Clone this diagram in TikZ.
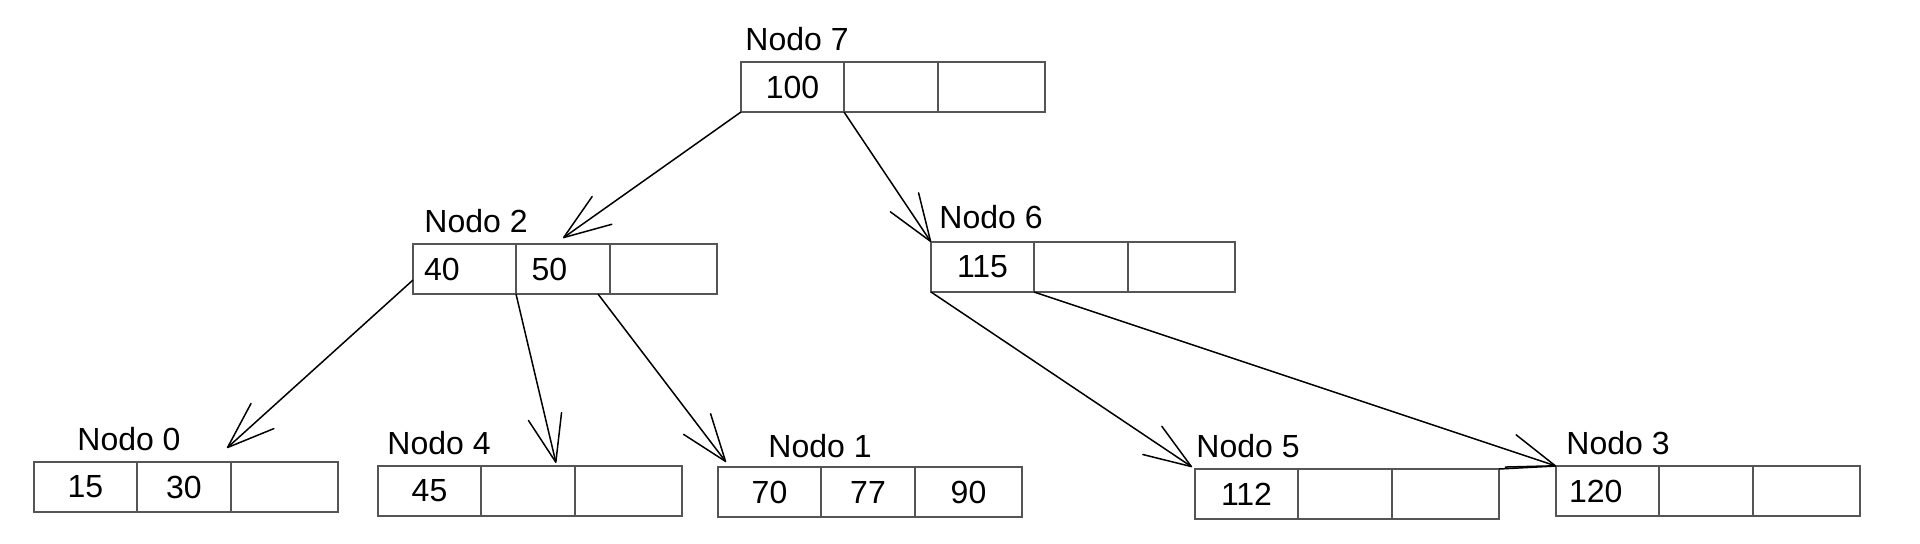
\documentclass[tikz,border=0pt]{standalone}
\usepackage{fontspec}
\setmainfont{Liberation Sans}
\usetikzlibrary{arrows.meta, positioning}
\definecolor{boxgray}{RGB}{85,85,85}

\begin{document}
\begin{tikzpicture}[x=0.5pt, y=-0.5pt,
  cell/.style={draw=boxgray, line width=1pt, minimum height=25pt, inner sep=0pt, outer sep=0pt, font=\fontsize{16}{19}\selectfont},
  ca/.style={cell, minimum width=51.5pt},
  cb/.style={cell, minimum width=47pt},
  cc/.style={cell, minimum width=53.5pt},
  lk/.style={text width=#1, align=left},
  tag/.style={font=\fontsize{16}{19}\selectfont, inner sep=0pt, anchor=base west},
  ptr/.style={-{Straight Barb[length=23.5pt, width=17pt, round]}, line width=0.75pt}]

\useasboundingbox (0,0) rectangle (1920,543);

% Nodo 7 (root)
\node[ca, anchor=north west] (n7a) at (741,62) {100};
\node[cb, right=0pt of n7a] (n7b) {};
\node[cc, right=0pt of n7b] (n7c) {};
\node[tag] (t7) at ([shift={(2pt,6pt)}]n7a.north west) {Nodo 7};

% Nodo 2
\node[ca, lk=40.5pt, anchor=north west] (n2a) at (413,244) {40};
\node[cb, lk=31.4pt, right=0pt of n2a] (n2b) {50};
\node[cc, right=0pt of n2b] (n2c) {};
\node[tag] (t2) at ([shift={(5.5pt,6pt)}]n2a.north west) {Nodo 2};

% Nodo 6
\node[ca, anchor=north west] (n6a) at (931,242) {115};
\node[cb, right=0pt of n6a] (n6b) {};
\node[cc, right=0pt of n6b] (n6c) {};
\node[tag] (t6) at ([shift={(4pt,7pt)}]n6a.north west) {Nodo 6};

% leaves
\node[ca, anchor=north west] (n0a) at (34,462) {15};
\node[cb, right=0pt of n0a] (n0b) {30};
\node[cc, right=0pt of n0b] (n0c) {};
\node[tag] (t0) at ([shift={(21.5pt,6pt)}]n0a.north west) {Nodo 0};

\node[ca, anchor=north west] (n4a) at (378,466) {45};
\node[cb, right=0pt of n4a] (n4b) {};
\node[cc, right=0pt of n4b] (n4c) {};
\node[tag] (t4) at ([shift={(4.5pt,6pt)}]n4a.north west) {Nodo 4};

\node[ca, anchor=north west] (n1a) at (718,467) {70};
\node[cb, right=0pt of n1a] (n1b) {77};
\node[cc, right=0pt of n1b] (n1c) {90};
\node[tag] (t1) at ([shift={(25pt,5pt)}]n1a.north west) {Nodo 1};

\node[ca, anchor=north west] (n5a) at (1195,469) {112};
\node[cb, right=0pt of n5a] (n5b) {};
\node[cc, right=0pt of n5b] (n5c) {};
\node[tag] (t5) at ([shift={(0.5pt,6pt)}]n5a.north west) {Nodo 5};

\node[ca, lk=38.5pt, anchor=north west] (n3a) at (1556,466) {120};
\node[cb, right=0pt of n3a] (n3b) {};
\node[cc, right=0pt of n3b] (n3c) {};
\node[tag] (t3) at ([shift={(5pt,6pt)}]n3a.north west) {Nodo 3};

% pointers
\draw[ptr] (n7a.south west) -- ([yshift=3pt]n2b.north);
\draw[ptr] (n7a.south east) -- (n6a.north west);
\draw[ptr] ([yshift=7pt]n2a.south west) -- ([shift={(-2pt,7pt)}]n0b.north east);
\draw[ptr] (n2a.south east) -- ([shift={(-9.5pt,1.5pt)}]n4b.north east);
\draw[ptr] ([xshift=-6pt]n2b.south east) -- ([shift={(4pt,2.5pt)}]n1a.north west);
\draw[ptr] (n6a.south west) -- ([shift={(-1.5pt,1pt)}]n5a.north west);
\draw[ptr] (n6a.south east) -- (n3a.north west);
\draw[line width=0.75pt] (n5c.north east) -- (n3a.north west);
\end{tikzpicture}
\end{document}
